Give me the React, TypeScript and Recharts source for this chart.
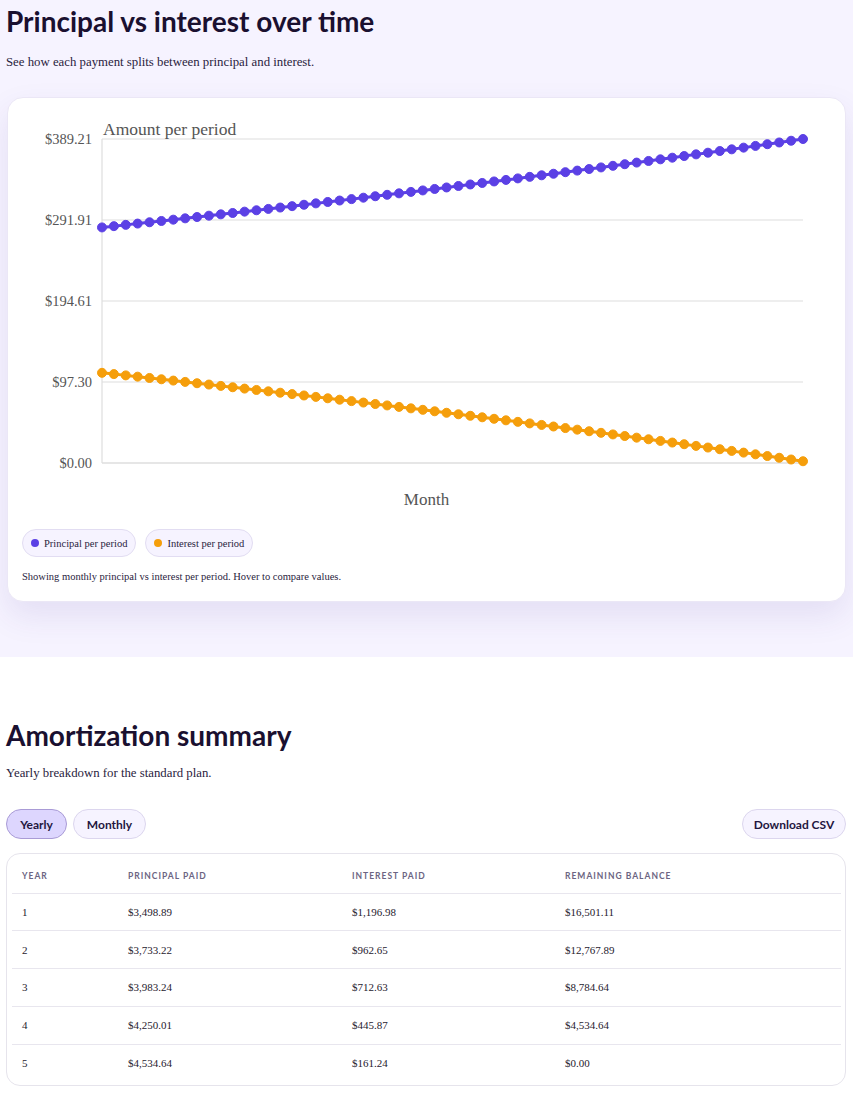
import React from "react";
import { LineChart, Line, XAxis, YAxis, CartesianGrid } from "recharts";

const months = [
  1, 2, 3, 4, 5, 6, 7, 8, 9, 10, 11, 12, 13, 14, 15, 16, 17, 18, 19, 20,
  21, 22, 23, 24, 25, 26, 27, 28, 29, 30, 31, 32, 33, 34, 35, 36, 37, 38, 39, 40,
  41, 42, 43, 44, 45, 46, 47, 48, 49, 50, 51, 52, 53, 54, 55, 56, 57, 58, 59, 60,
];

const principalPerPeriod = [
  282.99, 284.52, 286.06, 287.61, 289.17, 290.74, 292.31, 293.9, 295.49, 297.09, 298.7, 300.32,
  301.95, 303.59, 305.23, 306.88, 308.54, 310.21, 311.89, 313.58, 315.28, 316.99, 318.71, 320.44,
  322.17, 323.92, 325.67, 327.43, 329.21, 330.99, 332.78, 334.59, 336.4, 338.22, 340.05, 341.89,
  343.74, 345.6, 347.47, 349.36, 351.25, 353.15, 355.06, 356.99, 358.92, 360.87, 362.82, 364.79,
  366.76, 368.75, 370.75, 372.75, 374.77, 376.8, 378.84, 380.9, 382.96, 385.04, 387.12, 389.21,
];

const interestPerPeriod = [
  108.33, 106.8, 105.26, 103.71, 102.15, 100.58, 99.01, 97.42, 95.83, 94.23, 92.62, 91.0,
  89.37, 87.73, 86.09, 84.44, 82.78, 81.11, 79.43, 77.74, 76.04, 74.33, 72.61, 70.88,
  69.15, 67.4, 65.65, 63.89, 62.11, 60.33, 58.54, 56.73, 54.92, 53.1, 51.27, 49.43,
  47.58, 45.72, 43.85, 41.96, 40.07, 38.17, 36.26, 34.33, 32.4, 30.45, 28.5, 26.53,
  24.56, 22.57, 20.57, 18.57, 16.55, 14.52, 12.48, 10.42, 8.36, 6.28, 4.2, 2.11,
];

const yTickValues = [0, 97.3, 194.61, 291.91, 389.21];
const yTickLabels = ["$0.00", "$97.30", "$194.61", "$291.91", "$389.21"];

const tableYears = ["1", "2", "3", "4", "5"];
const tablePrincipalPaid = ["$3,498.89", "$3,733.22", "$3,983.24", "$4,250.01", "$4,534.64"];
const tableInterestPaid = ["$1,196.98", "$962.65", "$712.63", "$445.87", "$161.24"];
const tableRemaining = ["$16,501.11", "$12,767.89", "$8,784.64", "$4,534.64", "$0.00"];
const tableHeaders = ["Year", "Principal paid", "Interest paid", "Remaining balance"];

const PURPLE = "#5b40e5";
const ORANGE = "#f59e0b";
const SERIF = '"Liberation Serif", "Times New Roman", serif';
const SANS = 'Lato, "Noto Sans", sans-serif';

const chartData = months.map((m, i) => ({
  month: m,
  principal: principalPerPeriod[i],
  interest: interestPerPeriod[i],
}));

const YLabel = (props: any) => {
  const vb = props.viewBox || {};
  return (
    <text
      x={vb.x + vb.width + 1}
      y={vb.y - 4}
      fill="#555"
      fontSize={17.5}
      fontFamily={SERIF}
      textAnchor="start"
    >
      Amount per period
    </text>
  );
};

const XLabel = (props: any) => {
  const vb = props.viewBox || {};
  return (
    <text
      x={vb.x + vb.width / 2 - 26}
      y={vb.y + vb.height - 8}
      fill="#555"
      fontSize={17}
      fontFamily={SERIF}
      textAnchor="middle"
    >
      Month
    </text>
  );
};

const Pill = ({ color, label }: { color: string; label: string }) => (
  <div
    style={{
      display: "inline-flex",
      alignItems: "center",
      height: 28,
      boxSizing: "border-box",
      padding: "0 8px",
      borderRadius: 14,
      background: "#f6f3ff",
      border: "1px solid #e2ddf2",
      marginRight: 9,
      fontFamily: SERIF,
      fontSize: 10.5,
      color: "#2a2340",
    }}
  >
    <span
      style={{
        width: 8,
        height: 8,
        borderRadius: 4,
        background: color,
        display: "inline-block",
        marginRight: 5,
      }}
    />
    {label}
  </div>
);

const btnBase: React.CSSProperties = {
  height: 30,
  boxSizing: "border-box",
  borderRadius: 15,
  fontFamily: SANS,
  fontWeight: 700,
  fontSize: 12,
  color: "#1f1640",
  display: "inline-flex",
  alignItems: "center",
  justifyContent: "center",
};

const headingStyle: React.CSSProperties = {
  margin: 0,
  marginLeft: 6,
  fontFamily: SANS,
  fontWeight: 700,
  fontSize: 28,
  lineHeight: "34px",
  color: "#1a1030",
};

const colWidths = [106, 224, 213, 286];

export default function App() {
  return (
    <div style={{ width: 853, fontFamily: SERIF, color: "#1a1030" }}>
      <style>{"body{margin:0;}"}</style>
      <section
        style={{
          background: "#f6f3ff",
          height: 657,
          boxSizing: "border-box",
          paddingTop: 4,
          overflow: "hidden",
        }}
      >
        <h2 style={headingStyle}>Principal vs interest over time</h2>
        <p style={{ margin: 0, marginTop: 16, marginLeft: 6, fontSize: 12.8, lineHeight: "16px", color: "#2a2340" }}>
          See how each payment splits between principal and interest.
        </p>
        <div
          style={{
            marginTop: 27,
            marginLeft: 7,
            width: 839,
            height: 505,
            boxSizing: "border-box",
            background: "#ffffff",
            borderRadius: 16,
            border: "1px solid #ebe7f6",
            boxShadow: "0 14px 32px rgba(70, 50, 150, 0.10)",
            paddingTop: 12,
            paddingLeft: 14,
          }}
        >
          <LineChart
            width={800}
            height={403}
            data={chartData}
            margin={{ top: 29, right: 19, bottom: 0, left: 0 }}
          >
            <CartesianGrid vertical={false} stroke="#dedede" strokeWidth={1.2} />
            <XAxis
              dataKey="month"
              tick={false}
              tickLine={false}
              axisLine={{ stroke: "#dedede", strokeWidth: 1.2 }}
              height={50}
              label={<XLabel />}
            />
            <YAxis
              width={80}
              domain={[0, 389.21]}
              ticks={yTickValues}
              tickFormatter={(v: number) => yTickLabels[yTickValues.indexOf(v)] ?? String(v)}
              tickLine={false}
              tickMargin={4}
              axisLine={{ stroke: "#dedede", strokeWidth: 1.2 }}
              tick={{ fill: "#555", fontSize: 14.5, fontFamily: SERIF }}
              label={<YLabel />}
            />
            <Line
              type="linear"
              dataKey="principal"
              stroke={PURPLE}
              strokeWidth={3}
              dot={{ r: 4.5, fill: PURPLE, stroke: PURPLE, strokeWidth: 1 }}
              isAnimationActive={false}
            />
            <Line
              type="linear"
              dataKey="interest"
              stroke={ORANGE}
              strokeWidth={3}
              dot={{ r: 4.5, fill: ORANGE, stroke: ORANGE, strokeWidth: 1 }}
              isAnimationActive={false}
            />
          </LineChart>
          <div style={{ marginTop: 16, marginLeft: 0, display: "flex" }}>
            <Pill color={PURPLE} label="Principal per period" />
            <Pill color={ORANGE} label="Interest per period" />
          </div>
          <p style={{ margin: 0, marginTop: 13, marginLeft: 0, fontSize: 10.5, lineHeight: "14px", color: "#2a2340" }}>
            Showing monthly principal vs interest per period. Hover to compare values.
          </p>
        </div>
      </section>

      <section style={{ paddingTop: 61 }}>
        <h2 style={headingStyle}>Amortization summary</h2>
        <p style={{ margin: 0, marginTop: 13, marginLeft: 6, fontSize: 12.8, lineHeight: "16px", color: "#2a2340" }}>
          Yearly breakdown for the standard plan.
        </p>
        <div style={{ marginTop: 28, marginLeft: 6, width: 840, display: "flex", alignItems: "center" }}>
          <div style={{ ...btnBase, width: 61, background: "#ddd6fe", border: "1px solid #a99bd6" }}>Yearly</div>
          <div style={{ ...btnBase, width: 73, marginLeft: 6, background: "#f6f3ff", border: "1px solid #dcd6ee" }}>
            Monthly
          </div>
          <div style={{ flex: 1 }} />
          <div style={{ ...btnBase, width: 104, background: "#f6f3ff", border: "1px solid #dcd6ee" }}>
            Download CSV
          </div>
        </div>
        <div
          style={{
            marginTop: 14,
            marginLeft: 6,
            width: 840,
            height: 233,
            boxSizing: "border-box",
            border: "1px solid #e6e4ec",
            borderRadius: 14,
            padding: "5px 5px 0 5px",
            background: "#fff",
          }}
        >
          <table style={{ borderCollapse: "collapse", width: 829, tableLayout: "fixed" }}>
            <colgroup>
              {colWidths.map((w, i) => (
                <col key={i} style={{ width: w }} />
              ))}
            </colgroup>
            <thead>
              <tr style={{ height: 34 }}>
                {tableHeaders.map((h) => (
                  <th
                    key={h}
                    style={{
                      textAlign: "left",
                      paddingLeft: 10,
                      fontFamily: SANS,
                      fontSize: 8.5,
                      fontWeight: 700,
                      letterSpacing: 1,
                      textTransform: "uppercase",
                      color: "#6b6482",
                      borderBottom: "1px solid #e8e6ee",
                    }}
                  >
                    {h}
                  </th>
                ))}
              </tr>
            </thead>
            <tbody>
              {tableYears.map((y, i) => (
                <tr key={y} style={{ height: 37.8 }}>
                  {[y, tablePrincipalPaid[i], tableInterestPaid[i], tableRemaining[i]].map((c, j) => (
                    <td
                      key={j}
                      style={{
                        paddingLeft: 10,
                        fontSize: 11,
                        color: "#1f1a2e",
                        borderBottom: i < tableYears.length - 1 ? "1px solid #e8e6ee" : "none",
                      }}
                    >
                      {c}
                    </td>
                  ))}
                </tr>
              ))}
            </tbody>
          </table>
        </div>
      </section>
    </div>
  );
}
